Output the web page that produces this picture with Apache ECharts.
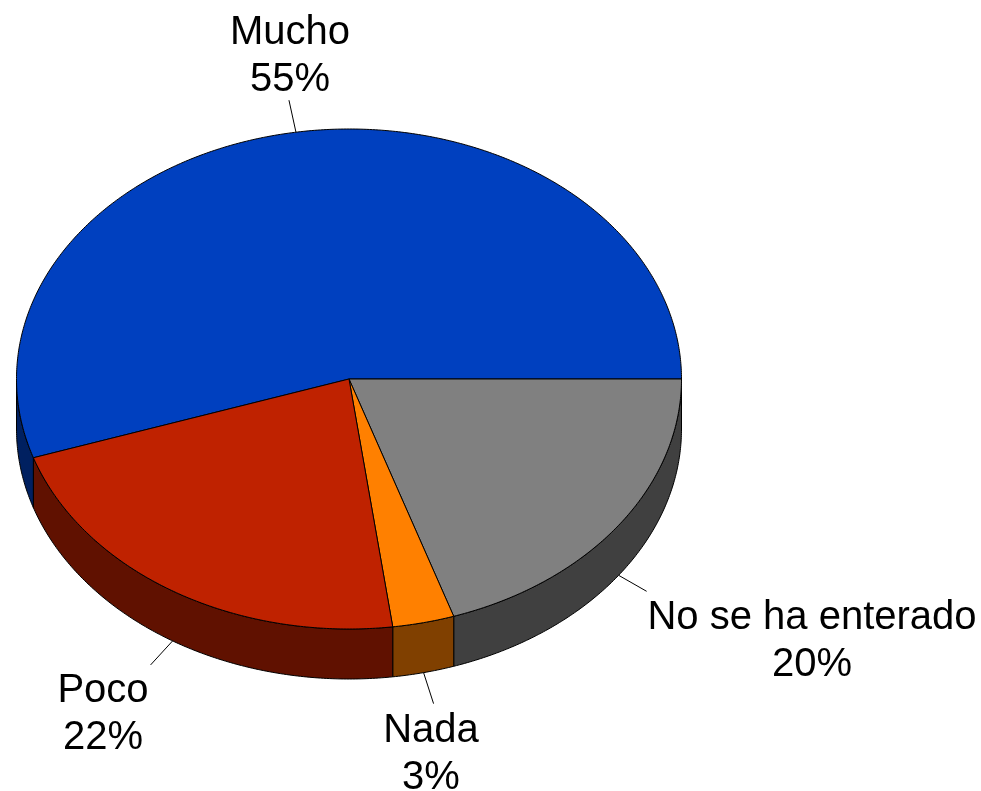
<!DOCTYPE html>
<html>
<head>
<meta charset="utf-8">
<style>html,body{margin:0;padding:0;background:#fff}#c{width:981px;height:791px}</style>
<script src="https://cdn.jsdelivr.net/npm/echarts@6/dist/echarts.min.js"></script>
</head>
<body>
<div id="c"></div>
<script>
const categories = ['Mucho', 'No se ha enterado', 'Nada', 'Poco'];
const values = [55.1, 19.9, 3.0, 22.0];
const percentLabels = ['55%', '20%', '3%', '22%'];
const topColors = ['#0040BF', '#808080', '#FF8000', '#BF2200'];
const sideColors = ['#002060', '#404040', '#804000', '#601100'];

// Pie layout
const CX = 349, CY = 379, RX = 332.5, RY = 250, DEPTH = 50;
// leader-line end and label centre, relative to the slice's rim point
const leaderEnd = [[-7, -32], [28, 16], [10, 31], [-22, 24]];
const labelPos = [[290, 56.5], [812, 641], [431, 754.5], [103, 714.5]];

const total = values.reduce((a, b) => a + b, 0);
// the first slice ends exactly at the east point of the ellipse
const START = 360 - values[0] / total * 360;
const starts = [];
values.reduce((acc, v, i) => { starts[i] = acc; return acc + v / total * 360; }, START);

function rim(deg, dy) {
  const t = deg * Math.PI / 180;
  return [CX + RX * Math.cos(t), CY + RY * Math.sin(t) + (dy || 0)];
}
function arcPts(a, b, dy) {
  const pts = [];
  const n = Math.max(2, Math.ceil((b - a) / 0.5));
  for (let i = 0; i <= n; i++) pts.push(rim(a + (b - a) * i / n, dy));
  return pts;
}
const stroke = { stroke: '#000', lineWidth: 1, lineJoin: 'round' };

function renderItem(params, api) {
  const i = params.dataIndex;
  const a = starts[i], b = a + api.value(0) / total * 360;
  const children = [];
  // outer wall: only the part of the rim facing the viewer
  [[0, 180], [360, 540]].forEach(function (win) {
    const s = Math.max(a, win[0]), e = Math.min(b, win[1]);
    if (e > s) {
      const pts = arcPts(s, e, 0).concat(arcPts(s, e, DEPTH).reverse());
      children.push({ type: 'polygon', z2: 1, shape: { points: pts },
        style: Object.assign({ fill: sideColors[i] }, stroke) });
    }
  });
  // top face
  children.push({ type: 'polygon', z2: 2, shape: { points: [[CX, CY]].concat(arcPts(a, b, 0)) },
    style: Object.assign({ fill: topColors[i] }, stroke) });
  // leader line from the rim at the slice's middle angle
  const mid = (a + b) / 2;
  const visibleFront = Math.sin(mid * Math.PI / 180) > 0;
  const p = rim(mid, visibleFront ? DEPTH : 0);
  children.push({ type: 'line', z2: 3,
    shape: { x1: p[0], y1: p[1], x2: p[0] + leaderEnd[i][0], y2: p[1] + leaderEnd[i][1] },
    style: { stroke: '#000', lineWidth: 1 } });
  // label
  children.push({ type: 'text', z2: 4, x: labelPos[i][0], y: labelPos[i][1],
    style: { text: categories[i] + '\n' + percentLabels[i], fill: '#000',
      font: '40px "Liberation Sans", Arial, sans-serif', lineHeight: 47,
      align: 'center', verticalAlign: 'middle' } });
  return { type: 'group', children: children };
}

const chart = echarts.init(document.getElementById('c'), null, { renderer: 'canvas' });
chart.setOption({
  backgroundColor: '#fff',
  animation: false,
  series: [{
    type: 'custom',
    coordinateSystem: 'none',
    silent: true,
    renderItem: renderItem,
    data: values.map((v, i) => ({ name: categories[i], value: [v] }))
  }]
});
</script>
</body>
</html>
